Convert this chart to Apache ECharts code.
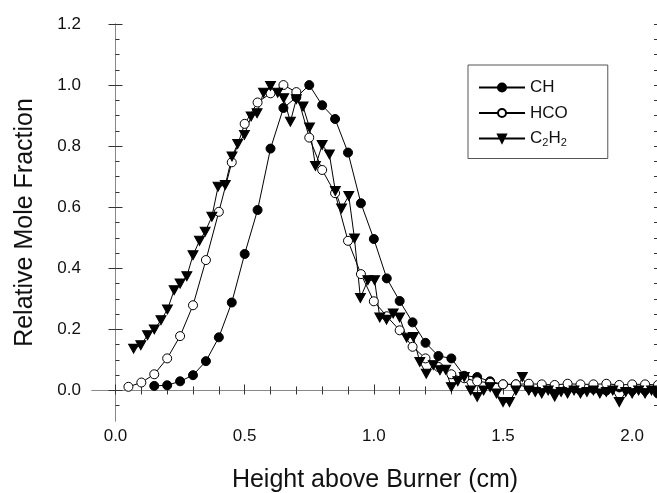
<!DOCTYPE html>
<html>
<head>
<meta charset="utf-8">
<script src="https://cdn.jsdelivr.net/npm/echarts@6/dist/echarts.min.js"></script>
<style>
html, body { margin: 0; padding: 0; background: #fff; }
#root { width: 657px; height: 493px; }
</style>
</head>
<body>
<div id="root"></div>
<script>
// values
const chX = [0.15, 0.2, 0.25, 0.3, 0.35, 0.4, 0.45, 0.5, 0.55, 0.6, 0.65, 0.7, 0.75, 0.8, 0.85, 0.9, 0.95, 1.0,
	1.05, 1.1, 1.15, 1.2, 1.25, 1.3, 1.35, 1.4, 1.45, 1.5, 1.55, 1.6, 1.65, 1.7, 1.75, 1.8, 1.85, 1.9, 1.95, 2.0, 2.05, 2.1]
const chY = [0.015, 0.017, 0.03, 0.05, 0.096, 0.174, 0.288, 0.447, 0.591, 0.792, 0.925, 0.96, 1.0, 0.934, 0.889, 0.779, 0.613, 0.496,
	0.367, 0.293, 0.223, 0.156, 0.113, 0.105, 0.048, 0.044, 0.03, 0.02, 0.02, 0.01, 0.01, 0.0, 0.01, 0.0, 0.005, 0.0, 0.01, 0.0, 0.0, -0.01]

const hcoX = [0.05, 0.1, 0.15, 0.2, 0.25, 0.3, 0.35, 0.4, 0.45, 0.5, 0.55, 0.6, 0.65, 0.7, 0.75, 0.8, 0.85, 0.9, 0.95, 1.0,
	1.05, 1.1, 1.15, 1.2, 1.25, 1.3, 1.35, 1.4, 1.45, 1.5, 1.55, 1.6, 1.65, 1.7, 1.75, 1.8, 1.85, 1.9, 1.95, 2.0, 2.05, 2.1]
const hcoY = [0.012, 0.026, 0.053, 0.105, 0.178, 0.279, 0.427, 0.585, 0.747, 0.873, 0.943, 0.973, 1.0, 0.977, 0.828, 0.722, 0.646, 0.49, 0.381, 0.292,
	0.243, 0.197, 0.143, 0.105, 0.077, 0.053, 0.04, 0.03, 0.025, 0.02, 0.02, 0.022, 0.02, 0.018, 0.022, 0.02, 0.02, 0.022, 0.018, 0.02, 0.02, 0.018]

const c2h2X = [0.07, 0.098, 0.124, 0.15, 0.176, 0.201, 0.227, 0.25, 0.276, 0.3, 0.325, 0.347, 0.373, 0.397, 0.425, 0.451, 0.473, 0.499,
	0.525, 0.548, 0.573, 0.6, 0.628, 0.651, 0.677, 0.7, 0.726, 0.751, 0.774, 0.8, 0.828, 0.851, 0.875, 0.903, 0.925, 0.948, 0.977,
	1.003, 1.023, 1.049, 1.075, 1.1, 1.127, 1.153, 1.178, 1.203, 1.23, 1.256, 1.278, 1.3, 1.325, 1.35, 1.375, 1.4, 1.425, 1.45,
	1.475, 1.5, 1.525, 1.55, 1.575, 1.6, 1.625, 1.65, 1.675, 1.7, 1.725, 1.75, 1.775, 1.8, 1.825, 1.85, 1.875, 1.9, 1.925, 1.95,
	1.975, 2.0, 2.025, 2.05, 2.075, 2.1]
const c2h2Y = [0.137, 0.148, 0.181, 0.2, 0.23, 0.265, 0.328, 0.35, 0.374, 0.443, 0.49, 0.52, 0.569, 0.667, 0.673, 0.766, 0.807, 0.837,
	0.897, 0.908, 0.975, 0.997, 0.975, 0.957, 0.88, 0.954, 0.93, 0.861, 0.735, 0.804, 0.773, 0.653, 0.596, 0.637, 0.498, 0.303, 0.361,
	0.361, 0.239, 0.232, 0.252, 0.239, 0.173, 0.175, 0.093, 0.055, 0.083, 0.066, 0.068, 0.011, 0.03, 0.044, 0.0, -0.021, 0.0, 0.011,
	-0.01, -0.038, -0.038, 0.0, 0.044, 0.0, -0.005, -0.01, 0.0, -0.02, -0.005, -0.01, 0.0, -0.01, -0.005, 0.0, -0.01, -0.005, 0.0, -0.038,
	-0.005, -0.01, 0.0, -0.01, 0.0, -0.005]

const xTicks = [0.0, 0.5, 1.0, 1.5, 2.0]
const yTicks = [0.0, 0.2, 0.4, 0.6, 0.8, 1.0, 1.2]

const FONT = 'Liberation Sans, Arial, sans-serif'

var steps = (from, to, step) => {
	const out = []
	for (let i = Math.round(from / step); i * step <= to + 1e-9; i++) out.push(+(i * step).toFixed(3))
	return out
}
var pairs = (xs, ys) => xs.map((x, i) => [x, ys[i]])

const xMinor = steps(0, 2.1, 0.1)
const yMinor = steps(-0.05, 1.2, 0.05)

const xRange = { min: -0.091, max: 2.1 }
const yRange = { min: -0.1, max: 1.2 }

const lineCol = '#888'
const tickCol = '#333'

const chart = echarts.init(document.getElementById('root'))

const option = {
	animation: false,
	backgroundColor: '#fff',
	// keep the plot box fixed, names may sit outside it
	grid: { left: 92, top: 24, width: 566, height: 397, outerBoundsMode: 'none' },
	legend: {
		left: 468, top: 65,
		orient: 'vertical',
		padding: [14, 40, 10, 10],
		itemGap: 8.5,
		itemWidth: 46, itemHeight: 10,
		borderColor: '#555', borderWidth: 1,
		data: ['CH', 'HCO', 'C2H2'],
		formatter: name => name === 'C2H2' ? '{n|C}{s|2}{n|H}{s|2}' : '{n|' + name + '}',
		textStyle: {
			color: '#111', fontFamily: FONT, fontSize: 17,
			rich: {
				n: { fontSize: 17, fontFamily: FONT, color: '#111' },
				s: { fontSize: 11, fontFamily: FONT, color: '#111', padding: [9, 0, 0, 0] }
			}
		}
	},
	xAxis: [
		{
			type: 'value', position: 'bottom', ...xRange,
			name: 'Height above Burner (cm)', nameLocation: 'middle', nameGap: 47,
			nameTextStyle: { fontFamily: FONT, fontSize: 25, color: '#111' },
			splitLine: { show: false },
			axisLine: { lineStyle: { color: lineCol, width: 1 } },
			axisTick: { inside: true, length: 6, customValues: xTicks, lineStyle: { color: tickCol } },
			axisLabel: { customValues: xTicks, margin: 7, fontFamily: FONT, fontSize: 17, color: '#111',
				formatter: v => v.toFixed(1) }
		},
		{
			type: 'value', position: 'bottom', ...xRange,
			splitLine: { show: false }, axisLine: { show: false }, axisLabel: { show: false },
			axisTick: { inside: true, length: 4, customValues: xMinor, lineStyle: { color: tickCol } }
		},
		{
			type: 'value', position: 'top', ...xRange,
			splitLine: { show: false }, axisLabel: { show: false },
			axisLine: { lineStyle: { color: lineCol, width: 1 } },
			axisTick: { inside: true, length: 4, customValues: xMinor, lineStyle: { color: tickCol } }
		}
	],
	yAxis: [
		{
			type: 'value', position: 'left', ...yRange,
			name: 'Relative Mole Fraction', nameLocation: 'middle', nameGap: 54,
			nameTextStyle: { fontFamily: FONT, fontSize: 25, color: '#111' },
			splitLine: { show: false },
			axisLine: { lineStyle: { color: lineCol, width: 1 } },
			axisTick: { inside: true, length: 7, customValues: yTicks, lineStyle: { color: tickCol } },
			axisLabel: { customValues: yTicks, margin: 11, fontFamily: FONT, fontSize: 17, color: '#111',
				formatter: v => v.toFixed(1) }
		},
		{
			type: 'value', position: 'left', ...yRange,
			splitLine: { show: false }, axisLine: { show: false }, axisLabel: { show: false },
			axisTick: { inside: true, length: 4, customValues: yMinor, lineStyle: { color: tickCol } }
		},
		{
			type: 'value', position: 'right', ...yRange,
			splitLine: { show: false }, axisLabel: { show: false },
			axisLine: { lineStyle: { color: lineCol, width: 1 } },
			axisTick: { inside: true, length: 7, customValues: yTicks, lineStyle: { color: tickCol } }
		},
		{
			type: 'value', position: 'right', ...yRange,
			splitLine: { show: false }, axisLine: { show: false }, axisLabel: { show: false },
			axisTick: { inside: true, length: 4, customValues: yMinor, lineStyle: { color: tickCol } }
		}
	],
	series: [
		{
			name: 'CH', type: 'line', data: pairs(chX, chY),
			symbol: 'circle', symbolSize: 9,
			itemStyle: { color: '#000', borderColor: '#000', borderWidth: 1 },
			lineStyle: { color: '#000', width: 1 }
		},
		{
			name: 'HCO', type: 'line', data: pairs(hcoX, hcoY),
			symbol: 'circle', symbolSize: 9,
			itemStyle: { color: '#fff', borderColor: '#000', borderWidth: 1 },
			lineStyle: { color: '#000', width: 1 }
		},
		{
			name: 'C2H2', type: 'line', data: pairs(c2h2X, c2h2Y),
			symbol: 'triangle', symbolRotate: 180, symbolSize: [10, 9],
			itemStyle: { color: '#000', borderColor: '#000', borderWidth: 1 },
			lineStyle: { color: '#000', width: 1 }
		}
	]
}
chart.setOption(option)
</script>
</body>
</html>
